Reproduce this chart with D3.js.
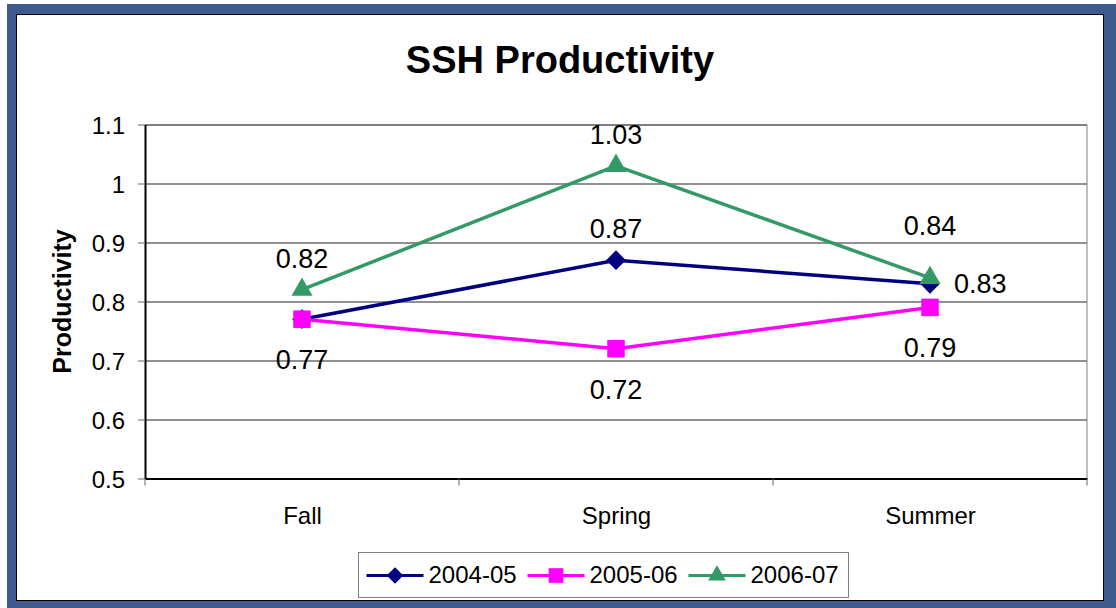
<!DOCTYPE html>
<html>
<head>
<meta charset="utf-8">
<script src="https://cdn.jsdelivr.net/npm/d3@7"></script>
<style>
    body { margin: 0; background: #fff; }
    svg { display: block; font-family: "Liberation Sans", Arial, sans-serif; }
</style>
</head>
<body>
<div id="chart"></div>
<script>
const categories = ["Fall", "Spring", "Summer"];
const seriesNames = ["2004-05", "2005-06", "2006-07"];
const values2004 = [0.77, 0.87, 0.83];
const values2005 = [0.77, 0.72, 0.79];
const values2006 = [0.82, 1.03, 0.84];
const yTicks = [0.5, 0.6, 0.7, 0.8, 0.9, 1, 1.1];
// where Excel put each data label (the two Fall 0.77 labels sit on top of each other)
const labelPos2004 = ["below", "above", "right"];
const labelPos2005 = ["none", "below", "below"];
const labelPos2006 = ["above", "above", "high"];

const series = [
    { name: seriesNames[0], values: values2004, pos: labelPos2004, color: "#000080", marker: d3.symbolDiamond2, size: 250 },
    { name: seriesNames[1], values: values2005, pos: labelPos2005, color: "#ff00ff", marker: d3.symbolSquare2, size: 390 },
    { name: seriesNames[2], values: values2006, pos: labelPos2006, color: "#339966", marker: d3.symbolTriangle2, size: 320 }
];

const width = 1116, height = 608;
const plot = { left: 145, right: 1087, top: 124.5, bottom: 478.5 };

const svg = d3.select("#chart").append("svg")
    .attr("width", width)
    .attr("height", height);

// frame
svg.append("rect")
    .attr("x", 7).attr("y", 4)
    .attr("width", width - 7).attr("height", height - 4)
    .style("fill", "#3f5a8c");
svg.append("rect")
    .attr("x", 16.5).attr("y", 14.5)
    .attr("width", 1087).attr("height", 586)
    .style("fill", "#fff")
    .style("stroke", "#000")
    .style("stroke-width", 1);

svg.append("text")
    .attr("x", 560)
    .attr("y", 73)
    .attr("text-anchor", "middle")
    .style("font-size", "38px")
    .style("font-weight", "bold")
    .text("SSH Productivity");

const x = d3.scalePoint()
    .domain(categories)
    .range([plot.left, plot.right])
    .padding(0.5);

const y = d3.scaleLinear()
    .domain([0.5, 1.1])
    .range([plot.bottom, plot.top]);

// gridlines
svg.append("g")
    .attr("transform", `translate(${plot.left},0)`)
    .call(d3.axisLeft(y).tickValues(yTicks.slice(1)).tickSize(-(plot.right - plot.left)).tickFormat(""))
    .call(g => g.select(".domain").remove())
    .call(g => g.selectAll("line").style("stroke", "#222").style("stroke-width", 1))
    .call(g => g.selectAll(".tick:last-of-type line").style("stroke", "#000"));

// right border
svg.append("line")
    .attr("x1", plot.right).attr("x2", plot.right)
    .attr("y1", plot.top).attr("y2", plot.bottom)
    .style("stroke", "#808080");

// y axis
svg.append("g")
    .attr("transform", `translate(${plot.left},0)`)
    .call(d3.axisLeft(y).tickValues(yTicks).tickSize(7).tickPadding(13).tickFormat(d => d3.format("")(d)).tickSizeOuter(0))
    .call(g => g.select(".domain").style("stroke", "#000").style("stroke-width", 2))
    .call(g => g.selectAll("line").style("stroke", "#666"))
    .call(g => g.selectAll("text")
        .style("font-size", "24px")
        .style("font-family", "Liberation Sans, Arial, sans-serif")
        .style("fill", "#000")
        .attr("dy", "0.36em"));

// x axis
svg.append("g")
    .attr("transform", `translate(0,${plot.bottom})`)
    .call(d3.axisBottom(x).tickSize(0).tickPadding(28).tickSizeOuter(0))
    .call(g => g.select(".domain").style("stroke", "#000").style("stroke-width", 2))
    .call(g => g.selectAll("text")
        .style("font-size", "24px")
        .style("font-family", "Liberation Sans, Arial, sans-serif")
        .style("fill", "#000"));

// tick marks between categories
svg.append("g")
    .selectAll("line")
    .data(d3.range(categories.length + 1))
    .enter()
    .append("line")
    .attr("x1", i => plot.left + i * x.step())
    .attr("x2", i => plot.left + i * x.step())
    .attr("y1", plot.bottom)
    .attr("y2", plot.bottom + 7)
    .style("stroke", "#666");

svg.append("text")
    .attr("transform", `translate(71,${(plot.top + plot.bottom) / 2}) rotate(-90)`)
    .attr("text-anchor", "middle")
    .style("font-size", "25px")
    .style("font-weight", "bold")
    .text("Productivity");

const line = d3.line()
    .x((d, i) => x(categories[i]))
    .y(d => y(d));

series.forEach(s => {
    svg.append("path")
        .datum(s.values)
        .attr("d", line)
        .style("fill", "none")
        .style("stroke", s.color)
        .style("stroke-width", 3.5);

    svg.append("g")
        .selectAll("path")
        .data(s.values)
        .enter()
        .append("path")
        .attr("transform", (d, i) => `translate(${x(categories[i])},${y(d)})`)
        .attr("d", d3.symbol().type(s.marker).size(s.size))
        .style("fill", s.color);
});

// data labels
function labelX(pos, px) { return pos == "right" ? px + 24 : px; }
function labelY(pos, py) {
    if (pos == "above") return py - 22;
    if (pos == "high") return py - 43;
    if (pos == "below") return py + 50;
    return py + 9;
}

series.forEach(s => {
    const shown = s.values.map((v, i) => ({ v: v, i: i })).filter(d => s.pos[d.i] != "none");
    svg.append("g")
        .selectAll("text")
        .data(shown)
        .enter()
        .append("text")
        .attr("x", d => labelX(s.pos[d.i], x(categories[d.i])))
        .attr("y", d => labelY(s.pos[d.i], y(d.v)))
        .attr("text-anchor", d => s.pos[d.i] == "right" ? "start" : "middle")
        .style("font-size", "27px")
        .text(d => d.v.toFixed(2));
});

// legend
const legend = svg.append("g").attr("transform", "translate(358.5,552.5)");
legend.append("rect")
    .attr("width", 490).attr("height", 45)
    .style("fill", "#fff")
    .style("stroke", "#808080");

const items = legend.selectAll("g.item")
    .data(series)
    .enter()
    .append("g")
    .attr("class", "item")
    .attr("transform", (d, i) => `translate(${8 + i * 161},23)`);

items.append("line")
    .attr("x1", 0).attr("x2", 57)
    .style("stroke", d => d.color)
    .style("stroke-width", 3);
items.append("path")
    .attr("transform", "translate(28.5,0)")
    .attr("d", d => d3.symbol().type(d.marker).size(d.size * 0.7)())
    .style("fill", d => d.color);
items.append("text")
    .attr("x", 62)
    .attr("y", 7)
    .style("font-size", "24px")
    .text(d => d.name);
</script>
</body>
</html>
